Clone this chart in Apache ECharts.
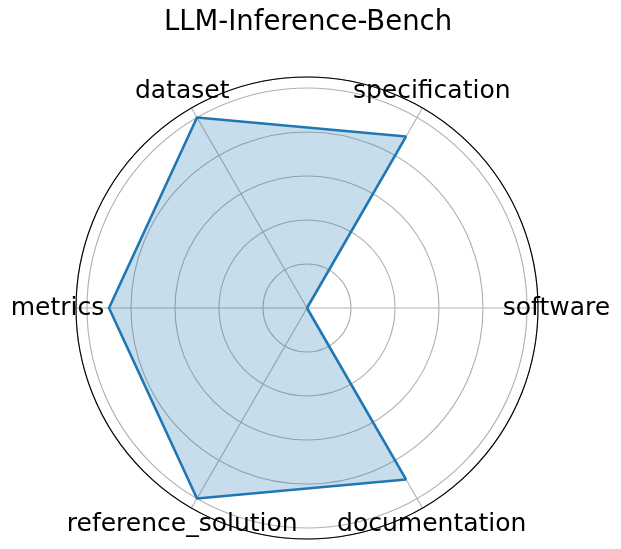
<!DOCTYPE html>
<html><head><meta charset="utf-8">
<script src="https://cdn.jsdelivr.net/npm/echarts@6/dist/echarts.min.js"></script>
<style>html,body{margin:0;padding:0;background:#fff}#c{width:621px;height:549px}</style>
</head><body><div id="c"></div>
<script>
const title = 'LLM-Inference-Bench';
const categories = ['software', 'specification', 'dataset', 'metrics', 'reference_solution', 'documentation'];
const values = [0.0, 0.9, 1.0, 0.9, 1.0, 0.9];
const radiusMax = 1.05;
const radiusInterval = 0.2;

const step = 360 / categories.length;
const angles = categories.map((c, i) => i * step);
const lineData = values.map((v, i) => [v, angles[i]]);
lineData.push([values[0], 360]);
const LABEL_R = 1.134;
const labelData = categories.map((c, i) => ({ name: c, value: [LABEL_R, angles[i]] }));

const chart = echarts.init(document.getElementById('c'), null, { renderer: 'canvas' });
const FONT = 'DejaVu Sans';
chart.setOption({
  animation: false,
  backgroundColor: '#ffffff',
  title: {
    text: title, left: 308, top: 9, textAlign: 'center', padding: 0,
    textStyle: { fontFamily: FONT, fontSize: 27.5, fontWeight: 'normal', color: '#000' }
  },
  polar: { center: [307, 308], radius: 231 },
  radiusAxis: {
    type: 'value', min: 0, max: radiusMax, interval: radiusInterval, z: 0,
    axisLine: { show: false }, axisTick: { show: false }, axisLabel: { show: false },
    splitLine: { show: true, lineStyle: { color: '#b0b0b0', width: 1.1 } }
  },
  angleAxis: {
    type: 'value', min: 0, max: 360, interval: step, startAngle: 0, clockwise: false, z: 1,
    axisLine: { show: true, lineStyle: { color: '#000', width: 1.1 } },
    axisTick: { show: false }, axisLabel: { show: false },
    splitLine: { show: true, lineStyle: { color: '#b0b0b0', width: 1.1 } }
  },
  series: [
    {
      type: 'line', coordinateSystem: 'polar', data: lineData, showSymbol: false, symbol: 'none',
      lineStyle: { color: '#1f77b4', width: 2.6 },
      areaStyle: { color: '#1f77b4', opacity: 0.25 },
      z: 2
    },
    {
      type: 'scatter', coordinateSystem: 'polar', data: labelData, clip: false,
      symbolSize: 0, itemStyle: { color: '#000', opacity: 1 }, z: 3,
      label: {
        show: true, position: 'inside', formatter: p => p.name, opacity: 1,
        fontFamily: FONT, fontSize: 25, color: '#000000', textBorderWidth: 0
      }
    }
  ]
});
</script>
</body></html>
